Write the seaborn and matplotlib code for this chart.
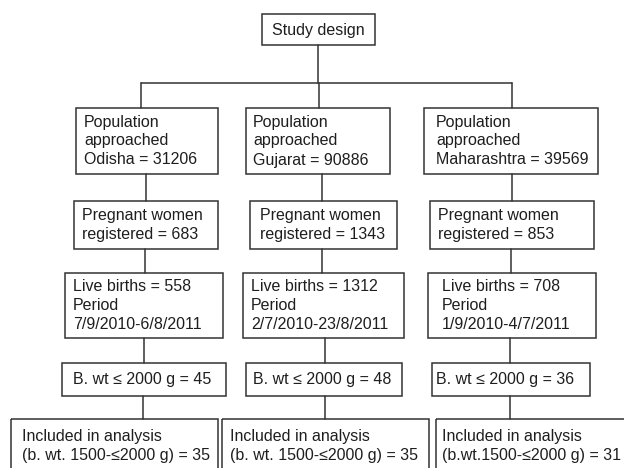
import matplotlib
matplotlib.use('agg')
import matplotlib.pyplot as plt
from matplotlib.patches import Rectangle
import seaborn as sns

# Flowchart content
top_label = "Study design"
states = ["Odisha", "Gujarat", "Maharashtra"]
population = [31206, 90886, 39569]
registered = [683, 1343, 853]
live_births = [558, 1312, 708]
periods = ["7/9/2010-6/8/2011", "2/7/2010-23/8/2011", "1/9/2010-4/7/2011"]
low_bw = [45, 48, 36]
included = [35, 35, 31]
included_prefix = ["(b. wt. 1500-\u22642000 g)", "(b. wt. 1500-\u22642000 g)", "(b.wt.1500-\u22642000 g)"]

levels = []
levels.append([["Population", "approached", f"{s} = {p}"] for s, p in zip(states, population)])
levels.append([["Pregnant women", f"registered = {r}"] for r in registered])
levels.append([[f"Live births = {b}", "Period", per] for b, per in zip(live_births, periods)])
levels.append([[f"B. wt \u2264 2000 g = {w}"] for w in low_bw])
levels.append([["Included in analysis", f"{pre} = {n}"] for pre, n in zip(included_prefix, included)])

# layout (pixel space, y downward)
row_y = [(108, 174), (201, 249), (273, 338), (363, 396), (419, 485)]
box_x = [
    [(76, 218), (246, 390), (424, 598)],
    [(74, 218), (250, 397), (430, 594)],
    [(65, 223), (243, 404), (428, 596)],
    [(62, 226), (246, 402), (432, 590)],
    [(11, 218), (222, 429), (436, 640)],
]
text_x = [
    [84, 253, 436],
    [82, 260, 438],
    [73, 251, 442],
    [73, 253, 436],
    [22, 230, 442],
]
link_x = [
    [146, 322, 512],
    [145, 322, 511],
    [144, 325, 510],
    [143, 325, 510],
]
line_gap = 19

sns.set_theme(style="white")
plt.rcParams['font.family'] = ['Liberation Sans', 'DejaVu Sans']

edge = "#333333"
ink = "#1e1e1e"
lw = 1.1
fs = 11.5

fig = plt.figure(figsize=(6.24, 4.68), dpi=100)
ax = fig.add_axes([0, 0, 1, 1])
ax.set_xlim(0, 624)
ax.set_ylim(468, 0)
ax.axis('off')


def box(x0, x1, y0, y1):
    ax.add_patch(Rectangle((x0, y0), x1 - x0, y1 - y0, fill=False,
                           edgecolor=edge, linewidth=lw))


def text_lines(x, yc, lines, ha='left'):
    n = len(lines)
    for i, t in enumerate(lines):
        y = yc + (i - (n - 1) / 2) * line_gap
        ax.text(x, y, t, ha=ha, va='center', fontsize=fs, color=ink)


# top box and splitter
box(262, 375, 14, 45)
text_lines(318.5, 30, [top_label], ha='center')
ax.plot([318, 318], [45, 83], color=edge, lw=lw)
ax.plot([141, 512], [83, 83], color=edge, lw=lw)
for xd in [141, 319, 512]:
    ax.plot([xd, xd], [83, row_y[0][0]], color=edge, lw=lw)

for li, level in enumerate(levels):
    y0, y1 = row_y[li]
    for ci, lines in enumerate(level):
        x0, x1 = box_x[li][ci]
        box(x0, x1, y0, y1)
        yc = (y0 + min(y1, 474)) / 2 if li == 4 else (y0 + y1) / 2
        if li == 4:
            yc = 446
        text_lines(text_x[li][ci], yc, lines)
        if li < len(levels) - 1:
            xl = link_x[li][ci]
            ax.plot([xl, xl], [y1, row_y[li + 1][0]], color=edge, lw=lw)

fig.savefig("out.png", dpi=100, facecolor="white")
